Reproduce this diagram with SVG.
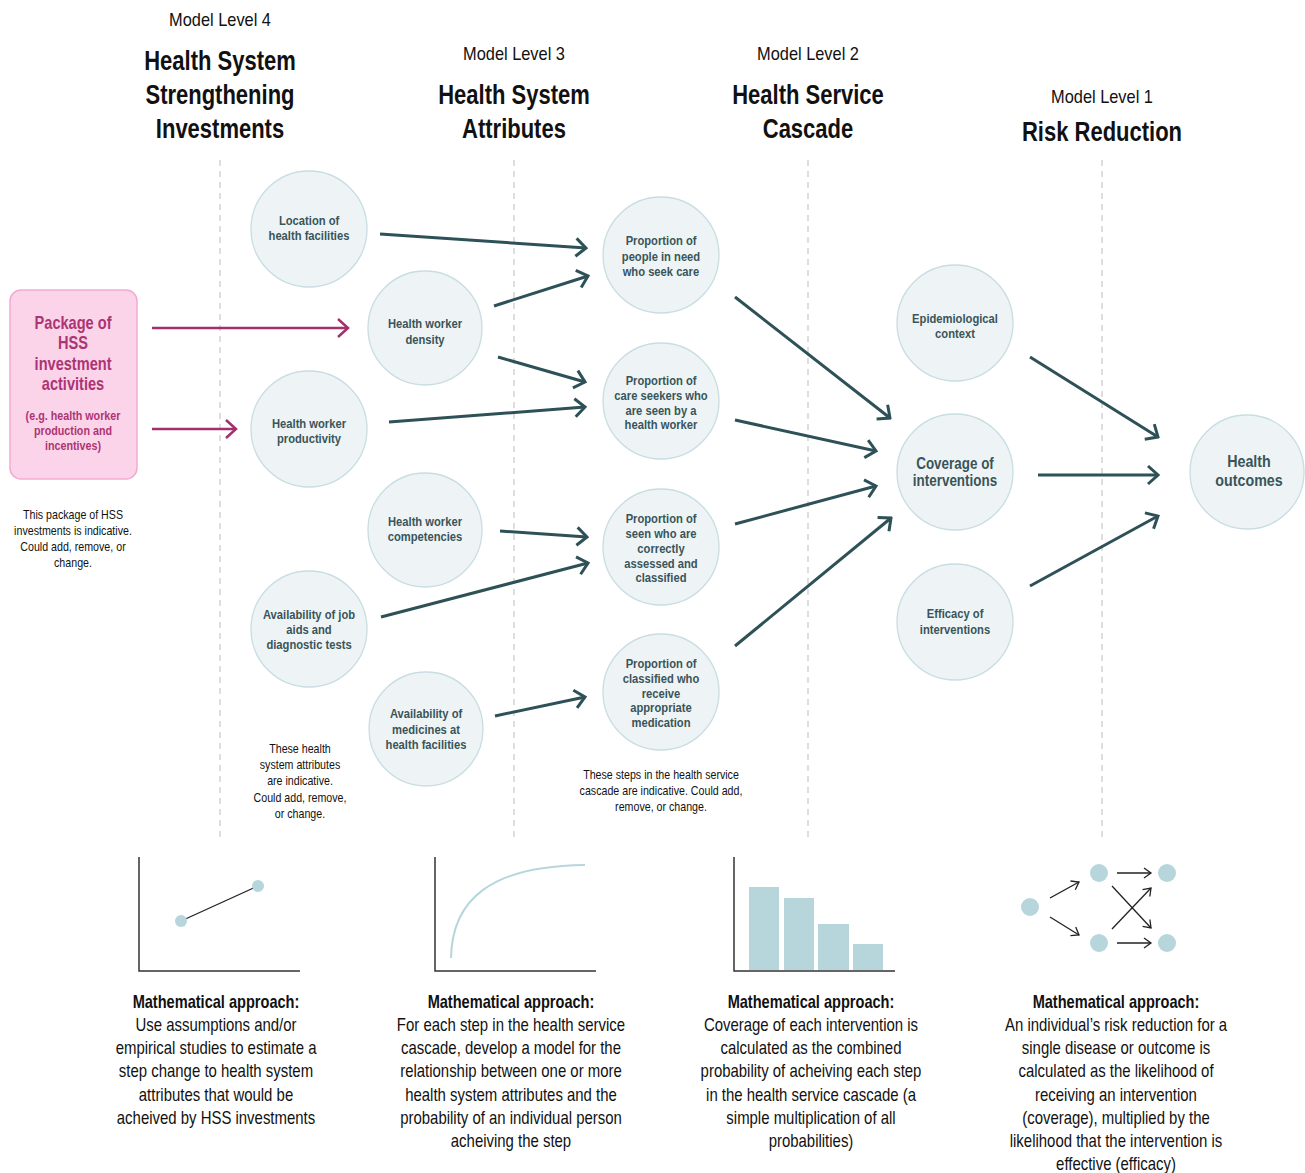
<svg xmlns="http://www.w3.org/2000/svg" width="1305" height="1173" viewBox="0 0 1305 1173">
<style>
text{font-family:"Liberation Sans",Arial,sans-serif;text-anchor:middle;transform-box:fill-box;transform-origin:50% 50%}
.lvl{font-size:18px;fill:#111;transform:scaleX(0.91)}
.hd{font-size:27px;font-weight:bold;fill:#111;transform:scaleX(0.815)}
.nd{fill:#eef4f6;stroke:#c8dde2;stroke-width:1.3}
.nt{font-size:13.5px;font-weight:bold;fill:#3a5459;transform:scaleX(0.83)}
.nt2{font-size:16px;font-weight:bold;fill:#3a5459;transform:scaleX(0.84)}
.pk{font-size:18px;font-weight:bold;fill:#ad3474;transform:scaleX(0.81)}
.pks{font-size:12.5px;font-weight:bold;fill:#ad3474;transform:scaleX(0.86)}
.note{font-size:13px;fill:#111;transform:scaleX(0.82)}
.dash{stroke:#bdbdbd;stroke-width:1;stroke-dasharray:6 5}
.ar{stroke:#2e5157;stroke-width:3;fill:none;marker-end:url(#ah)}
.pa{stroke:#a3306e;stroke-width:2.5;fill:none;marker-end:url(#ph)}
.ax{stroke:#333;stroke-width:1.5;fill:none}
.ma{font-size:18px;font-weight:bold;fill:#111;transform:scaleX(0.81)}
.mb{font-size:18px;fill:#111;transform:scaleX(0.83)}
.sa{stroke:#222;stroke-width:1.3;fill:none;marker-end:url(#sh)}
.dot{fill:#b6d6dc}
</style>
<defs>
<marker id="ah" markerUnits="userSpaceOnUse" viewBox="-14 -12 16 24" refX="0" refY="0" markerWidth="16" markerHeight="24" orient="auto">
<path d="M-10,-9 L0,0 L-10,9" fill="none" stroke="#2e5157" stroke-width="3" stroke-linejoin="miter" stroke-linecap="butt"/>
</marker>
<marker id="ph" markerUnits="userSpaceOnUse" viewBox="-14 -12 16 24" refX="0" refY="0" markerWidth="16" markerHeight="24" orient="auto">
<path d="M-10,-9 L0,0 L-10,9" fill="none" stroke="#a3306e" stroke-width="2.5"/>
</marker>
<marker id="sh" markerUnits="userSpaceOnUse" viewBox="-10 -8 12 16" refX="0" refY="0" markerWidth="12" markerHeight="16" orient="auto">
<path d="M-7,-5 L0,0 L-7,5" fill="none" stroke="#222" stroke-width="1.3"/>
</marker>
</defs>
<rect width="1305" height="1173" fill="#fff"/>

<g id="dividers">
<line class="dash" x1="220" y1="160" x2="220" y2="840"/>
<line class="dash" x1="514" y1="160" x2="514" y2="840"/>
<line class="dash" x1="808" y1="160" x2="808" y2="840"/>
<line class="dash" x1="1102" y1="160" x2="1102" y2="840"/>
</g>

<g id="headers">
<text class="lvl" x="220" y="26">Model Level 4</text>
<text class="hd" x="220" y="70">Health System</text>
<text class="hd" x="220" y="104">Strengthening</text>
<text class="hd" x="220" y="138">Investments</text>
<text class="lvl" x="514" y="60">Model Level 3</text>
<text class="hd" x="514" y="104">Health System</text>
<text class="hd" x="514" y="138">Attributes</text>
<text class="lvl" x="808" y="60">Model Level 2</text>
<text class="hd" x="808" y="104">Health Service</text>
<text class="hd" x="808" y="138">Cascade</text>
<text class="lvl" x="1102" y="103">Model Level 1</text>
<text class="hd" x="1102" y="141">Risk Reduction</text>
</g>

<g id="connectors">
<line class="pa" x1="152" y1="328" x2="348" y2="328"/>
<line class="pa" x1="152" y1="429" x2="236" y2="429"/>
<line class="ar" x1="380" y1="234" x2="586" y2="248"/>
<line class="ar" x1="494" y1="306" x2="588" y2="276"/>
<line class="ar" x1="498" y1="357" x2="585" y2="382"/>
<line class="ar" x1="389" y1="422" x2="585" y2="407"/>
<line class="ar" x1="500" y1="531" x2="587" y2="537"/>
<line class="ar" x1="381" y1="617" x2="588" y2="563"/>
<line class="ar" x1="495" y1="716" x2="585" y2="697"/>
<line class="ar" x1="735" y1="297" x2="890" y2="418"/>
<line class="ar" x1="735" y1="420" x2="876" y2="451"/>
<line class="ar" x1="735" y1="524" x2="876" y2="486"/>
<line class="ar" x1="735" y1="646" x2="891" y2="518"/>
<line class="ar" x1="1030" y1="357" x2="1158" y2="437"/>
<line class="ar" x1="1038" y1="475" x2="1158" y2="475"/>
<line class="ar" x1="1030" y1="586" x2="1158" y2="516"/>
</g>

<g id="package">
<rect x="10" y="290" width="127" height="189" rx="11" fill="#fbd4e9" stroke="#f4aad0" stroke-width="1.5"/>
<text class="pk" x="73" y="329">Package of</text>
<text class="pk" x="73" y="349">HSS</text>
<text class="pk" x="73" y="370">investment</text>
<text class="pk" x="73" y="390">activities</text>
<text class="pks" x="73" y="420">(e.g. health worker</text>
<text class="pks" x="73" y="435">production and</text>
<text class="pks" x="73" y="450">incentives)</text>
</g>

<g id="n-location"><circle class="nd" cx="309" cy="229" r="58"/><text class="nt" x="309" y="225">Location of</text><text class="nt" x="309" y="240">health facilities</text></g>
<g id="n-density"><circle class="nd" cx="425" cy="328" r="57"/><text class="nt" x="425" y="328">Health worker</text><text class="nt" x="425" y="344">density</text></g>
<g id="n-productivity"><circle class="nd" cx="309" cy="429" r="58"/><text class="nt" x="309" y="428">Health worker</text><text class="nt" x="309" y="443">productivity</text></g>
<g id="n-competencies"><circle class="nd" cx="425" cy="530" r="57"/><text class="nt" x="425" y="526">Health worker</text><text class="nt" x="425" y="541">competencies</text></g>
<g id="n-jobaids"><circle class="nd" cx="309" cy="629" r="58"/><text class="nt" x="309" y="619">Availability of job</text><text class="nt" x="309" y="634">aids and</text><text class="nt" x="309" y="649">diagnostic tests</text></g>
<g id="n-medicines"><circle class="nd" cx="426" cy="729" r="57"/><text class="nt" x="426" y="718">Availability of</text><text class="nt" x="426" y="734">medicines at</text><text class="nt" x="426" y="749">health facilities</text></g>

<g id="n-seekcare"><circle class="nd" cx="661" cy="255" r="58"/><text class="nt" x="661" y="245">Proportion of</text><text class="nt" x="661" y="261">people in need</text><text class="nt" x="661" y="276">who seek care</text></g>
<g id="n-seen"><circle class="nd" cx="661" cy="401" r="58"/><text class="nt" x="661" y="385">Proportion of</text><text class="nt" x="661" y="400">care seekers who</text><text class="nt" x="661" y="415">are seen by a</text><text class="nt" x="661" y="429">health worker</text></g>
<g id="n-assessed"><circle class="nd" cx="661" cy="547" r="58"/><text class="nt" x="661" y="523">Proportion of</text><text class="nt" x="661" y="538">seen who are</text><text class="nt" x="661" y="553">correctly</text><text class="nt" x="661" y="568">assessed and</text><text class="nt" x="661" y="582">classified</text></g>
<g id="n-medication"><circle class="nd" cx="661" cy="692" r="58"/><text class="nt" x="661" y="668">Proportion of</text><text class="nt" x="661" y="683">classified who</text><text class="nt" x="661" y="698">receive</text><text class="nt" x="661" y="712">appropriate</text><text class="nt" x="661" y="727">medication</text></g>

<g id="n-epi"><circle class="nd" cx="955" cy="323" r="58"/><text class="nt" x="955" y="323">Epidemiological</text><text class="nt" x="955" y="338">context</text></g>
<g id="n-coverage"><circle class="nd" cx="955" cy="472" r="58"/><text class="nt2" x="955" y="469">Coverage of</text><text class="nt2" x="955" y="486">interventions</text></g>
<g id="n-efficacy"><circle class="nd" cx="955" cy="622" r="58"/><text class="nt" x="955" y="618">Efficacy of</text><text class="nt" x="955" y="634">interventions</text></g>
<g id="n-outcomes"><circle class="nd" cx="1247" cy="472" r="57"/><text class="nt2" x="1249" y="467" style="font-size:17px">Health</text><text class="nt2" x="1249" y="486" style="font-size:17px">outcomes</text></g>

<g id="notes">
<text class="note" x="73" y="519">This package of HSS</text>
<text class="note" x="73" y="535">investments is indicative.</text>
<text class="note" x="73" y="551">Could add, remove, or</text>
<text class="note" x="73" y="567">change.</text>
<text class="note" x="300" y="753">These health</text>
<text class="note" x="300" y="769">system attributes</text>
<text class="note" x="300" y="785">are indicative.</text>
<text class="note" x="300" y="802">Could add, remove,</text>
<text class="note" x="300" y="818">or change.</text>
<text class="note" x="661" y="779">These steps in the health service</text>
<text class="note" x="661" y="795">cascade are indicative. Could add,</text>
<text class="note" x="661" y="811">remove, or change.</text>
</g>

<g id="chart-linear">
<path class="ax" d="M139,857 V971 H300"/>
<line x1="181" y1="921" x2="258" y2="886" stroke="#222" stroke-width="1.3"/>
<circle class="dot" cx="181" cy="921" r="6"/>
<circle class="dot" cx="258" cy="886" r="6"/>
</g>
<g id="chart-curve">
<path class="ax" d="M435,857 V971 H596"/>
<path d="M451,958 C452,900 490,866 585,865" fill="none" stroke="#b6d6dc" stroke-width="2"/>
</g>
<g id="chart-bars">
<path class="ax" d="M734,857 V971 H895"/>
<rect class="dot" x="749" y="887" width="30" height="83"/>
<rect class="dot" x="784" y="898" width="30" height="72"/>
<rect class="dot" x="818" y="924" width="31" height="46"/>
<rect class="dot" x="853" y="944" width="30" height="26"/>
</g>
<g id="chart-tree">
<line class="sa" x1="1050" y1="898" x2="1079" y2="882"/>
<line class="sa" x1="1050" y1="917" x2="1079" y2="935"/>
<line class="sa" x1="1117" y1="873" x2="1151" y2="873"/>
<line class="sa" x1="1117" y1="943" x2="1151" y2="943"/>
<line class="sa" x1="1112" y1="886" x2="1151" y2="928"/>
<line class="sa" x1="1112" y1="929" x2="1151" y2="888"/>
<circle class="dot" cx="1030" cy="907" r="9"/>
<circle class="dot" cx="1099" cy="873" r="9"/>
<circle class="dot" cx="1099" cy="943" r="9"/>
<circle class="dot" cx="1167" cy="873" r="9"/>
<circle class="dot" cx="1167" cy="943" r="9"/>
</g>

<g id="math-text">
<text class="ma" x="216" y="1008">Mathematical approach:</text>
<text class="mb" x="216" y="1031">Use assumptions and/or</text>
<text class="mb" x="216" y="1054">empirical studies to estimate a</text>
<text class="mb" x="216" y="1077">step change to health system</text>
<text class="mb" x="216" y="1101">attributes that would be</text>
<text class="mb" x="216" y="1124">acheived by HSS investments</text>

<text class="ma" x="511" y="1008">Mathematical approach:</text>
<text class="mb" x="511" y="1031">For each step in the health service</text>
<text class="mb" x="511" y="1054">cascade, develop a model for the</text>
<text class="mb" x="511" y="1077">relationship between one or more</text>
<text class="mb" x="511" y="1101">health system attributes and the</text>
<text class="mb" x="511" y="1124">probability of an individual person</text>
<text class="mb" x="511" y="1147">acheiving the step</text>

<text class="ma" x="811" y="1008">Mathematical approach:</text>
<text class="mb" x="811" y="1031">Coverage of each intervention is</text>
<text class="mb" x="811" y="1054">calculated as the combined</text>
<text class="mb" x="811" y="1077">probability of acheiving each step</text>
<text class="mb" x="811" y="1101">in the health service cascade (a</text>
<text class="mb" x="811" y="1124">simple multiplication of all</text>
<text class="mb" x="811" y="1147">probabilities)</text>

<text class="ma" x="1116" y="1008">Mathematical approach:</text>
<text class="mb" x="1116" y="1031">An individual’s risk reduction for a</text>
<text class="mb" x="1116" y="1054">single disease or outcome is</text>
<text class="mb" x="1116" y="1077">calculated as the likelihood of</text>
<text class="mb" x="1116" y="1101">receiving an intervention</text>
<text class="mb" x="1116" y="1124">(coverage), multiplied by the</text>
<text class="mb" x="1116" y="1147">likelihood that the intervention is</text>
<text class="mb" x="1116" y="1170">effective (efficacy)</text>
</g>
</svg>
